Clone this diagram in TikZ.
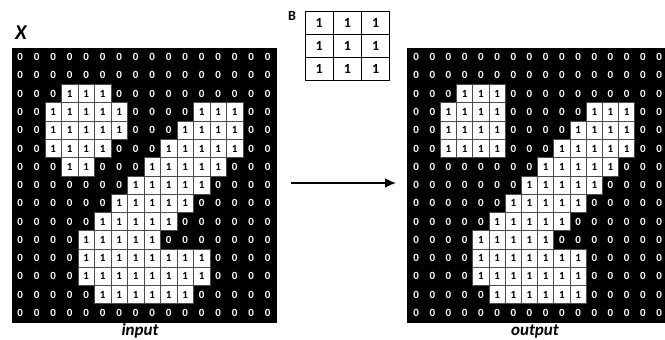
\documentclass[tikz,border=0pt]{standalone}
\usepackage{fontspec}
\setmainfont{Carlito}
\usetikzlibrary{arrows.meta}
\begin{document}
\begin{tikzpicture}[x=1pt,y=-1pt,
  zero/.style={text=white, font=\bfseries\fontsize{11}{11}\selectfont, inner sep=0},
  onecell/.style={draw=black!70, line width=0.7pt, fill=white, minimum width=16.5pt, minimum height=18.3pt, inner sep=0, font=\bfseries\fontsize{11}{11}\selectfont},
  onecellb/.style={onecell, minimum width=16.2pt},
  frame/.style={fill=black, draw=black, inner sep=0, anchor=north west},
  bcell/.style={draw=black, line width=1pt, fill=white, minimum width=28.3pt, minimum height=23.1pt, inner sep=0, font=\bfseries\fontsize{14}{14}\selectfont},
  lbl/.style={font=\bfseries\itshape\fontsize{17}{17}\selectfont, inner sep=0, anchor=base}]
\clip (0,0) rectangle (665,340);
\fill[white] (0,0) rectangle (665,340);
% input grid
\node[frame, minimum width=264pt, minimum height=274pt] (inframe) at (12,48) {};
\foreach \r in {0,...,14} \foreach \c in {0,...,15}
  \node[zero] (inz-\r-\c) at ({12+(\c+0.5)*16.5},{48+(\r+0.5)*18.27}) {0};
\foreach \r/\a/\b in {2/3/5, 3/2/6, 3/11/13, 4/2/6, 4/10/13, 5/2/5, 5/9/13, 6/3/4, 6/8/12, 7/7/11, 8/6/10, 9/5/9, 10/4/8, 11/4/11, 12/4/11, 13/5/10}
  \foreach \c in {\a,...,\b}
    \node[onecell] (ino-\r-\c) at ({12+(\c+0.5)*16.5},{48+(\r+0.5)*18.27}) {1};
% output grid
\node[frame, minimum width=270pt, minimum height=274pt] (outframe) at (407,48) {};
\foreach \r in {0,...,14} \foreach \c in {0,...,15}
  \node[zero] (outz-\r-\c) at ({408+(\c+0.5)*16.2},{48+(\r+0.5)*18.27}) {0};
\foreach \r/\a/\b in {2/3/5, 3/2/5, 3/11/13, 4/2/5, 4/10/13, 5/2/5, 5/9/13, 6/8/12, 7/7/11, 8/6/10, 9/5/9, 10/4/8, 11/4/10, 12/4/10, 13/5/10}
  \foreach \c in {\a,...,\b}
    \node[onecellb] (outo-\r-\c) at ({408+(\c+0.5)*16.2},{48+(\r+0.5)*18.27}) {1};
% structuring element
\node[font=\bfseries\fontsize{14}{14}\selectfont, inner sep=0] (blbl) at (292,16) {B};
\foreach \r in {0,1,2} \foreach \c in {0,1,2}
  \node[bcell] (b-\r-\c) at ({305+(\c+0.5)*28.3},{11+(\r+0.5)*23.1}) {1};
% labels
\node[font=\bfseries\itshape\fontsize{21}{21}\selectfont, inner sep=0] (xlbl) at (21,33) {X};
\node[lbl] (inlbl) at (140,335) {input};
\node[lbl] (outlbl) at (535,335) {output};
% arrow
\coordinate (as) at (291,183);
\coordinate (ae) at (396,183);
\draw[line width=1.8pt, -{Latex[length=11pt,width=10pt]}] (as) -- (ae);
\end{tikzpicture}
\end{document}
